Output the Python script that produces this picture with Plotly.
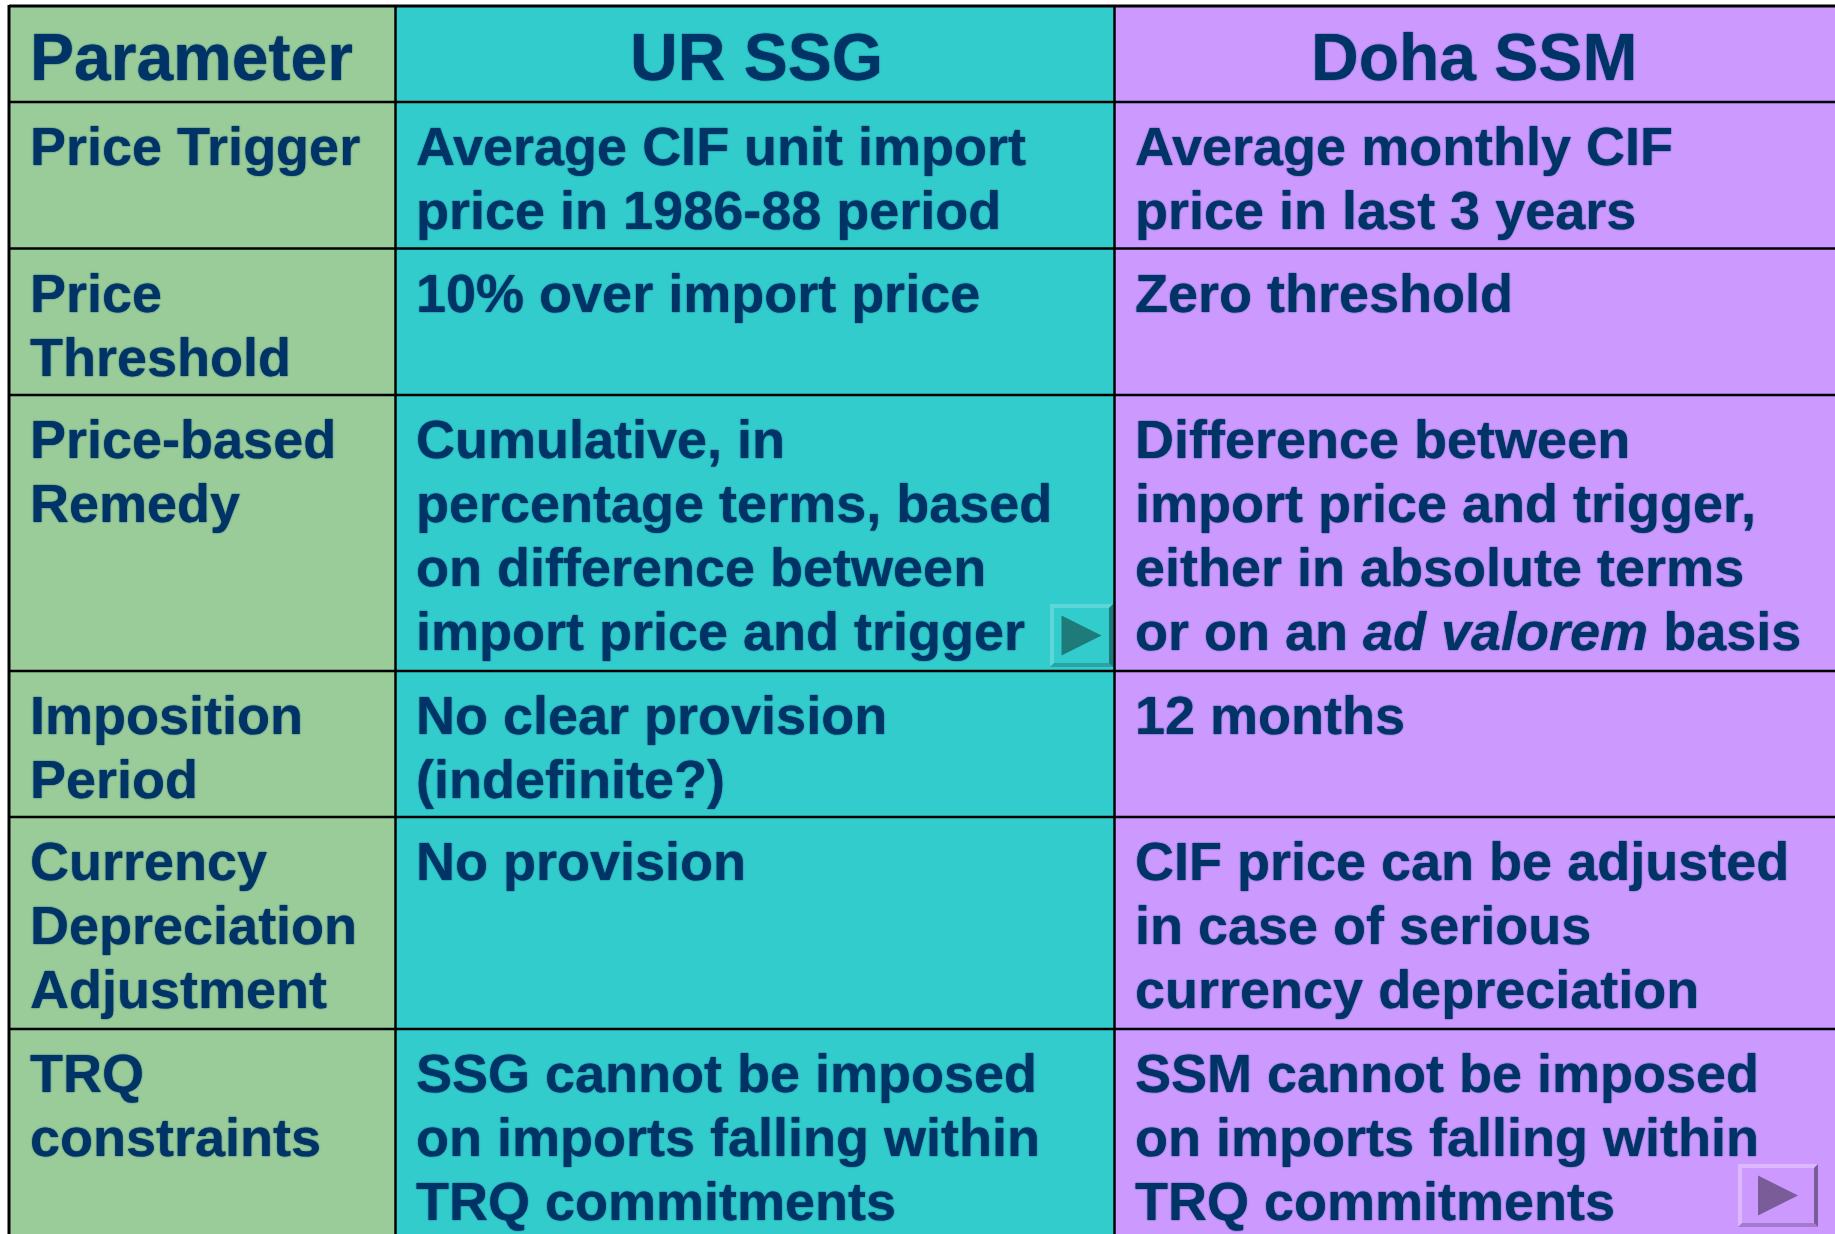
import plotly.graph_objects as go

headers = ["Parameter", "UR SSG", "Doha SSM"]
rows = [
    (["Price Trigger"], ["Average CIF unit import", "price in 1986-88 period"], ["Average monthly CIF", "price in last 3 years"]),
    (["Price", "Threshold"], ["10% over import price"], ["Zero threshold"]),
    (["Price-based", "Remedy"], ["Cumulative, in", "percentage terms, based", "on difference between", "import price and trigger"],
     ["Difference between", "import price and trigger,", "either in absolute terms", "or on an <i>ad valorem</i> basis"]),
    (["Imposition", "Period"], ["No clear provision", "(indefinite?)"], ["12 months"]),
    (["Currency", "Depreciation", "Adjustment"], ["No provision"], ["CIF price can be adjusted", "in case of serious", "currency depreciation"]),
    (["TRQ", "constraints"], ["SSG cannot be imposed", "on imports falling within", "TRQ commitments"],
     ["SSM cannot be imposed", "on imports falling within", "TRQ commitments"]),
]
col_edges = [9, 395.5, 1114.5, 1838]
row_edges = [6, 102, 248.5, 395, 671, 817, 1029, 1238]
col_colors = ["#99CC99", "#33CCCC", "#CC99FF"]
text_color = "#003366"
FONT = "Liberation Sans"
BODY = 54
HEAD = 66
LINE = 64
text_x = [28, 414, 1133]
buttons = [  # x0, y0, x1, y1, face, light, mid-dark, dark, glyph
    (1050, 604, 1113, 667, "#33CCCC", "#5CD6D6", "#29A3A3", "#1F7A7A", "#1F7A7A"),
    (1738, 1164, 1818, 1227, "#CC99FF", "#DBB8FF", "#A37ACC", "#7A5C99", "#7A5C99"),
]

fig = go.Figure()
shapes, notes = [], []

for i, c in enumerate(col_colors):
    shapes.append(dict(type="rect", x0=col_edges[i], x1=col_edges[i + 1], y0=row_edges[0], y1=row_edges[-1],
                       fillcolor=c, line_width=0, layer="below"))
for x in col_edges[:3]:
    w = 3 if x == col_edges[0] else 2.5
    shapes.append(dict(type="line", x0=x, x1=x, y0=row_edges[0] - 1, y1=row_edges[-1], line=dict(color="black", width=w)))
for y in row_edges[:7]:
    w = 3 if y == row_edges[0] else 2.5
    shapes.append(dict(type="line", x0=col_edges[0], x1=1835, y0=y, y1=y, line=dict(color="black", width=w)))

for b in buttons:
    x0, y0, x1, y1, face, light, mid, dark, glyph = b
    shapes.append(dict(type="rect", x0=x0, x1=x1, y0=y0, y1=y1, fillcolor=face, line_width=0))
    e = 4
    shapes.append(dict(type="path", path=f"M{x0},{y0} L{x1},{y0} L{x1-e},{y0+e} L{x0+e},{y0+e} L{x0+e},{y1-e} L{x0},{y1} Z",
                       fillcolor=light, line_width=0))
    shapes.append(dict(type="path", path=f"M{x0},{y1} L{x1},{y1} L{x1-e},{y1-e} L{x0+e},{y1-e} Z",
                       fillcolor=mid, line_width=0))
    shapes.append(dict(type="path", path=f"M{x1},{y0} L{x1},{y1} L{x1-e},{y1-e} L{x1-e},{y0+e} Z",
                       fillcolor=dark, line_width=0))
    mx, my = (x0 + x1) / 2, (y0 + y1) / 2
    shapes.append(dict(type="path", path=f"M{mx-20},{my-20} L{mx+20},{my} L{mx-20},{my+20} Z", fillcolor=glyph, line_width=0))

def note(x, y, t, size, anchor="left"):
    notes.append(dict(x=x, y=y, text=f"<b>{t}</b>", showarrow=False, xanchor=anchor, yanchor="middle",
                      align=anchor, font=dict(family=FONT, size=size, color=text_color, shadow="0 0 1.5px #003366")))

note(28, 57, headers[0], HEAD)
note(756, 57, headers[1], HEAD, "center")
note(1474, 57, headers[2], HEAD, "center")
for r, row in enumerate(rows):
    for c, lines in enumerate(row):
        for k, t in enumerate(lines):
            note(text_x[c], row_edges[r + 1] + 44 + k * LINE, t, BODY)

fig.update_layout(
    width=1835, height=1234, margin=dict(l=0, r=0, t=0, b=0), showlegend=False,
    paper_bgcolor="white", plot_bgcolor="white", shapes=shapes, annotations=notes,
    xaxis=dict(range=[0, 1835], visible=False, fixedrange=True),
    yaxis=dict(range=[1234, 0], visible=False, fixedrange=True),
)
fig.write_html("out.html", config=dict(displayModeBar=False),
               post_script="document.body.style.margin='0';document.body.style.overflow='hidden';")
